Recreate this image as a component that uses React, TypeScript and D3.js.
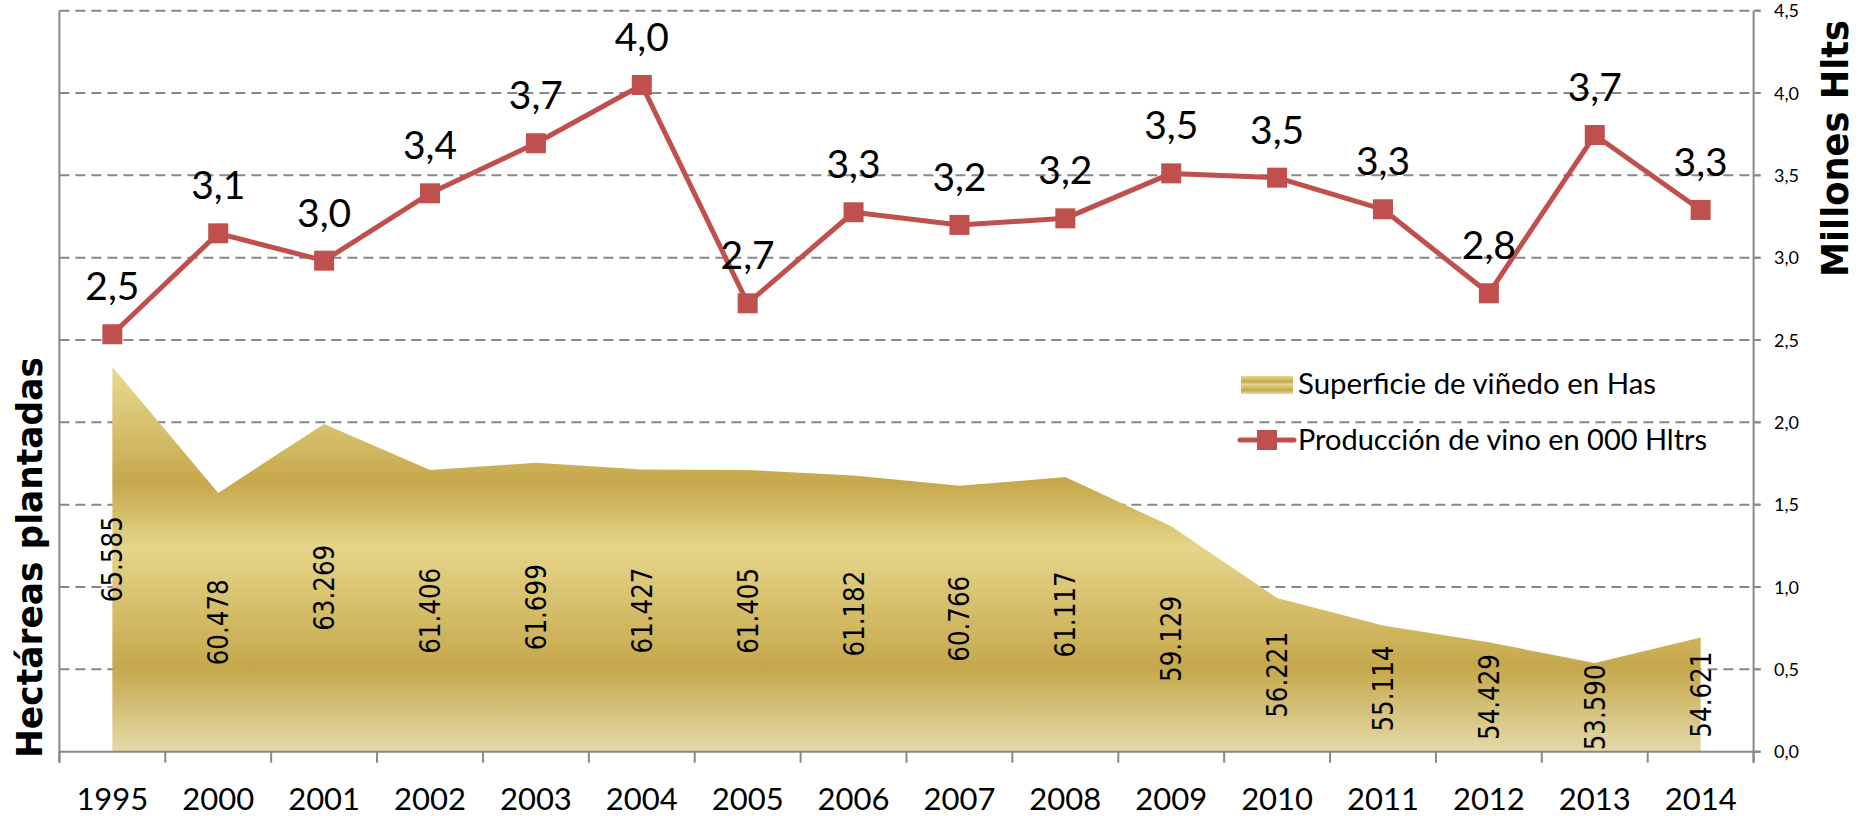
import React from "react";
import * as d3 from "d3";

const years = ["1995","2000","2001","2002","2003","2004","2005","2006","2007","2008","2009","2010","2011","2012","2013","2014"];
const superficie = [65585, 60478, 63269, 61406, 61699, 61427, 61405, 61182, 60766, 61117, 59129, 56221, 55114, 54429, 53590, 54621];
const produccion = [2.535, 3.148, 2.982, 3.391, 3.695, 4.049, 2.723, 3.276, 3.199, 3.239, 3.512, 3.486, 3.294, 2.784, 3.745, 3.290];
const rightTicks = [0, 0.5, 1, 1.5, 2, 2.5, 3, 3.5, 4, 4.5];
const legendLabels = ["Superficie de viñedo en Has", "Producción de vino en 000 Hltrs"];
const axisTitles = ["Hectáreas plantadas", "Millones Hlts"];

const W = 1860, H = 816;
const X0 = 59.4, X1 = 1753.6, YB = 751.7, YT = 10.7;
const RED = "#C0504D";
const GRID = "#888888";

const x = d3.scaleBand<string>().domain(years).range([X0, X1]).paddingInner(0).paddingOuter(0);
const cx = (y: string) => (x(y) as number) + x.bandwidth() / 2;
const yR = d3.scaleLinear().domain([0, 4.5]).range([YB, YT]);
const yL = d3.scaleLinear().domain([50000, 80000]).range([YB, YT]);

const fmtR = (v: number) => v.toFixed(1).replace(".", ",");
const fmtL = (v: number) => {
  const s = String(v);
  return s.slice(0, s.length - 3) + "." + s.slice(s.length - 3);
};

export default function App() {
  const areaGen = d3.area<number>()
    .x((_, i) => cx(years[i]))
    .y0(YB)
    .y1((d) => yL(d));
  const lineGen = d3.line<number>()
    .x((_, i) => cx(years[i]))
    .y((d) => yR(d));

  const boundaries = d3.range(years.length + 1).map((i) => X0 + i * x.bandwidth());

  return (
    <svg width={W} height={H} style={{ position: "absolute", left: 0, top: 0, background: "#fff" }}
      fontFamily="Lato, 'Open Sans', sans-serif">
      <defs>
        <linearGradient id="gold" x1="0" y1="0" x2="0" y2="1">
          <stop offset="0" stopColor="#E9DA93" />
          <stop offset="0.30" stopColor="#C6A84C" />
          <stop offset="0.47" stopColor="#E6D589" />
          <stop offset="0.78" stopColor="#C5A84C" />
          <stop offset="1" stopColor="#E4D9A8" />
        </linearGradient>
      </defs>

      {/* gridlines */}
      {rightTicks.filter((t) => t > 0).map((t) => (
        <line key={"g" + t} x1={X0} x2={X1 + 7} y1={yR(t)} y2={yR(t)}
          stroke={GRID} strokeWidth={2} strokeDasharray="10,6" />
      ))}

      {/* area */}
      <path d={areaGen(superficie) || ""} fill="url(#gold)" />

      {/* axes */}
      <line x1={X0} x2={X0} y1={YT} y2={YB + 11} stroke={GRID} strokeWidth={2} />
      <line x1={X1} x2={X1} y1={YT} y2={YB + 11} stroke={GRID} strokeWidth={2} />
      <line x1={X0} x2={X1 + 7} y1={YB} y2={YB} stroke={GRID} strokeWidth={2} />
      {boundaries.map((b, i) => (
        <line key={"xt" + i} x1={b} x2={b} y1={YB} y2={YB + 11} stroke={GRID} strokeWidth={2} />
      ))}
      {rightTicks.map((t) => (
        <line key={"rt" + t} x1={X1} x2={X1 + 7} y1={yR(t)} y2={yR(t)} stroke={GRID} strokeWidth={2} />
      ))}

      {/* right tick labels */}
      {rightTicks.map((t) => (
        <text key={"rl" + t} x={1774} y={yR(t) + 6.5} fontSize={18} fill="#000">{fmtR(t)}</text>
      ))}

      {/* x labels */}
      {years.map((y) => (
        <text key={"xl" + y} x={cx(y)} y={810} fontSize={31} textAnchor="middle" fill="#000">{y}</text>
      ))}

      {/* area value labels */}
      {superficie.map((v, i) => {
        const px = cx(years[i]);
        const py = (yL(v) + YB) / 2;
        return (
          <text key={"al" + i} transform={`translate(${px},${py}) rotate(-90)`}
            textAnchor="middle" dominantBaseline="central"
            fontFamily="'DejaVu Sans', sans-serif" fontSize={29}
            textLength={86} lengthAdjust="spacingAndGlyphs" fill="#000">{fmtL(v)}</text>
        );
      })}

      {/* line */}
      <path d={lineGen(produccion) || ""} fill="none" stroke={RED} strokeWidth={5} strokeLinejoin="round" />
      {produccion.map((v, i) => (
        <rect key={"m" + i} x={cx(years[i]) - 10} y={yR(v) - 10} width={20} height={20} fill={RED} />
      ))}
      {produccion.map((v, i) => (
        <text key={"ll" + i} x={cx(years[i])} y={yR(v) - 34} fontSize={39} textAnchor="middle" fill="#000">{fmtR(v)}</text>
      ))}

      {/* legend */}
      <rect x={1241} y={376} width={52} height={18} fill="url(#gold)" />
      <text x={1298} y={394} fontSize={28} textLength={358} lengthAdjust="spacingAndGlyphs" fill="#000">{legendLabels[0]}</text>
      <line x1={1240} x2={1294} y1={440} y2={440} stroke={RED} strokeWidth={5} strokeLinecap="round" />
      <rect x={1257} y={430} width={20} height={20} fill={RED} />
      <text x={1298} y={450} fontSize={28} textLength={409} lengthAdjust="spacingAndGlyphs" fill="#000">{legendLabels[1]}</text>

      {/* axis titles */}
      <text transform={`translate(42,557.5) rotate(-90)`} textAnchor="middle"
        fontFamily="'DejaVu Sans', sans-serif" fontWeight="bold" fontSize={36}
        textLength={401} lengthAdjust="spacingAndGlyphs" fill="#000">{axisTitles[0]}</text>
      <text transform={`translate(1848,148.5) rotate(-90)`} textAnchor="middle"
        fontFamily="'DejaVu Sans', sans-serif" fontWeight="bold" fontSize={38}
        textLength={257} lengthAdjust="spacingAndGlyphs" fill="#000">{axisTitles[1]}</text>
    </svg>
  );
}
